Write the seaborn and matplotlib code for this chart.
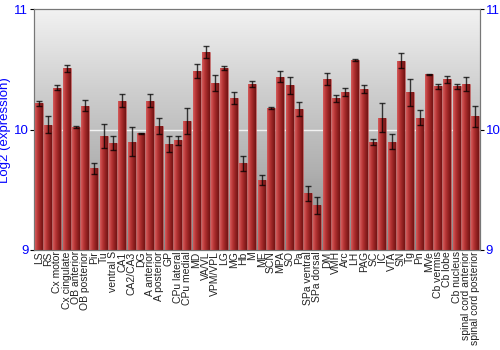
import numpy as np
import pandas as pd
import matplotlib
matplotlib.use("Agg")
import matplotlib.pyplot as plt
import seaborn as sns
from matplotlib.colors import LinearSegmentedColormap

regions = ["LS", "RS", "Cx motor", "Cx cingulate", "OB anterior", "OB posterior", "Pir", "Tu",
           "ventral S", "CA1", "CA2/CA3", "DG", "A anterior", "A posterior", "GP", "CPu lateral",
           "CPu medial", "MD", "VA/VL", "VPM/VPL", "LG", "MG", "Hb", "M", "ME", "SCN", "MPA", "SO",
           "Pa", "SPa ventral", "SPa dorsal", "DM", "VMH", "Arc", "LH", "PAG", "SC", "IC", "VTA",
           "SN", "Tg", "Pn", "MVe", "Cb vermis", "Cb lobe", "Cb nucleus",
           "spinal cord anterior", "spinal cord posterior"]
expression = [10.22, 10.04, 10.35, 10.51, 10.02, 10.20, 9.68, 9.95,
              9.89, 10.24, 9.90, 9.97, 10.24, 10.03, 9.88, 9.91,
              10.07, 10.49, 10.65, 10.39, 10.51, 10.26, 9.72, 10.38, 9.58, 10.18, 10.44, 10.37,
              10.17, 9.47, 9.37, 10.42, 10.26, 10.31, 10.58, 10.34, 9.90, 10.10, 9.90,
              10.575, 10.31, 10.10, 10.46, 10.36, 10.42, 10.36,
              10.38, 10.11]
error = [0.02, 0.07, 0.02, 0.03, 0.01, 0.045, 0.045, 0.10,
         0.06, 0.055, 0.12, 0.005, 0.055, 0.07, 0.065, 0.035,
         0.11, 0.057, 0.05, 0.067, 0.017, 0.05, 0.065, 0.027, 0.04, 0.005, 0.045, 0.07,
         0.06, 0.065, 0.07, 0.05, 0.028, 0.033, 0.005, 0.033, 0.025, 0.12, 0.06,
         0.064, 0.11, 0.065, 0.005, 0.022, 0.028, 0.02,
         0.06, 0.085]
y_ticks = [9, 10, 11]

df = pd.DataFrame({"region": regions, "expression": expression, "error": error})

sns.set_theme(style="white")
plt.rcParams['font.family'] = ['Liberation Sans', 'DejaVu Sans']

fig = plt.figure(figsize=(5, 3.5), dpi=100)
ax = fig.add_axes([0.068, 0.286, 0.892, 0.687])

# background vertical gradient
bg = LinearSegmentedColormap.from_list("bg", ["#888888", "#b0b0b0", "#cfcfcf", "#f2f2f2"])
grad = np.linspace(0, 1, 256).reshape(-1, 1)
ax.imshow(grad, extent=[-0.5, len(regions) - 0.5, 9, 11], origin="lower",
          aspect="auto", cmap=bg, zorder=0)

sns.barplot(data=df, x="region", y="expression", color="#a52a2a", width=0.86,
            ax=ax, zorder=2, saturation=1, linewidth=0)

# horizontal gradient on bars
barcmap = LinearSegmentedColormap.from_list("bar", ["#d45c5c", "#b83636", "#952222", "#731414"])
hgrad = np.linspace(0, 1, 64).reshape(1, -1)
for p in ax.patches:
    x0, w = p.get_x(), p.get_width()
    h = p.get_height()
    im = ax.imshow(hgrad, extent=[x0, x0 + w, 9, h], origin="lower", aspect="auto",
                   cmap=barcmap, zorder=3)
    im.set_clip_path(p)
    p.set_edgecolor("#c86a6a")
    p.set_linewidth(0.4)

ax.axhline(10, color="white", lw=1.0, alpha=0.8, zorder=1.5)

ax.errorbar(np.arange(len(regions)), df["expression"], yerr=df["error"], fmt="none",
            ecolor="black", elinewidth=1.0, capsize=2.2, capthick=1.0, alpha=0.75, zorder=4)

ax.set_xlim(-0.5, len(regions) - 0.5)
ax.set_ylim(9, 11)
ax.set_yticks(y_ticks)
ax.set_yticklabels([str(t) for t in y_ticks], color="blue", fontsize=9.5)
ax.set_ylabel("Log2 (expression)", color="blue", fontsize=9.5, labelpad=2)
ax.set_xlabel("")
ax.set_xticks(np.arange(len(regions)))
ax.set_xticklabels(regions, rotation=90, fontsize=7.5, color="#222222")
ax.tick_params(axis="x", length=0, pad=1)
ax.tick_params(axis="y", length=3, width=0.8, color="black", direction="out", left=True, pad=1)

ax2 = ax.twinx()
ax2.set_ylim(9, 11)
ax2.set_yticks(y_ticks)
ax2.set_yticklabels([str(t) for t in y_ticks], color="blue", fontsize=9.5)
ax2.tick_params(axis="y", length=3, width=0.8, color="black", direction="out", right=True, pad=1)

for a in (ax, ax2):
    for s in a.spines.values():
        s.set_color("#777777")
        s.set_linewidth(0.8)

fig.savefig("out.png", dpi=100)
